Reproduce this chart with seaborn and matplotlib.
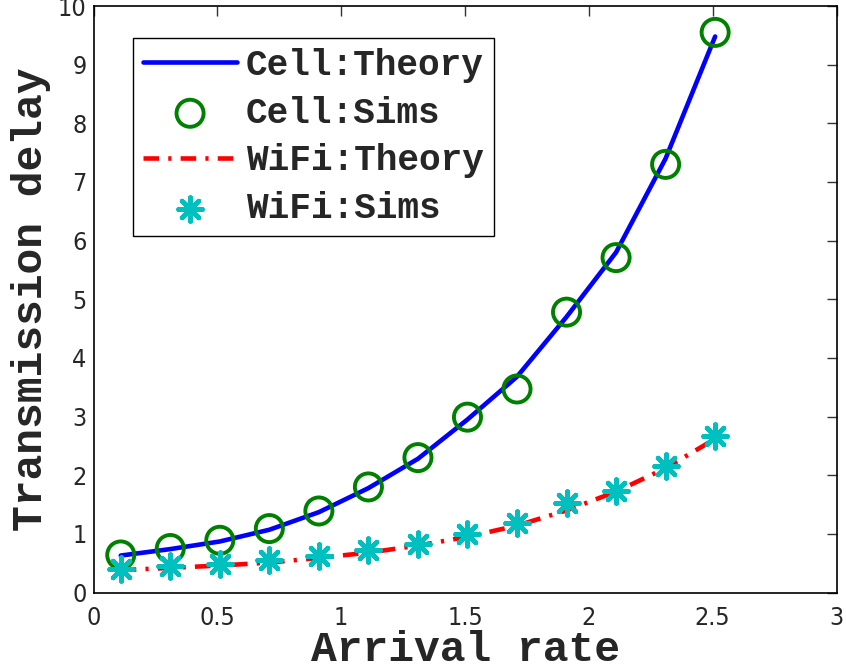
import matplotlib
matplotlib.use("Agg")
import matplotlib.pyplot as plt
import seaborn as sns
import pandas as pd
from matplotlib import font_manager

# ---- data ----
arrival_rate = [0.11, 0.31, 0.51, 0.71, 0.91, 1.11, 1.31, 1.51, 1.71, 1.91, 2.11, 2.31, 2.51]
cell_theory = [0.63, 0.74, 0.87, 1.07, 1.37, 1.78, 2.28, 2.95, 3.68, 4.70, 5.80, 7.40, 9.48]
cell_sims = [0.64, 0.75, 0.89, 1.09, 1.39, 1.80, 2.30, 2.99, 3.47, 4.78, 5.71, 7.30, 9.55]
wifi_theory = [0.38, 0.42, 0.46, 0.51, 0.59, 0.68, 0.80, 0.95, 1.14, 1.40, 1.72, 2.12, 2.62]
wifi_sims = [0.40, 0.45, 0.49, 0.55, 0.63, 0.72, 0.83, 0.99, 1.19, 1.53, 1.73, 2.15, 2.66]
series_labels = ["Cell:Theory", "Cell:Sims", "WiFi:Theory", "WiFi:Sims"]
x_ticks = [0, 0.5, 1, 1.5, 2, 2.5, 3]
y_ticks = list(range(0, 11))

df = pd.DataFrame({
    "x": arrival_rate,
    "cell_theory": cell_theory,
    "cell_sims": cell_sims,
    "wifi_theory": wifi_theory,
    "wifi_sims": wifi_sims,
})

sns.set_style("white")

# pick a narrow sans font for tick labels if one exists
tick_prop = font_manager.FontProperties(family="Liberation Sans", size=18)
for f in font_manager.fontManager.ttflist:
    n = (f.fname or "").lower()
    if ("narrow" in n or "condensed" in n) and "bold" not in n and "oblique" not in n and "italic" not in n \
            and ("liberation" in n or "dejavusans" in n):
        tick_prop = font_manager.FontProperties(fname=f.fname, size=18)
        break
mono = "Liberation Mono"

fig = plt.figure(figsize=(8.46, 6.72), dpi=100)
ax = fig.add_axes([93.5 / 846, (672 - 592.5) / 672, (836.5 - 93.5) / 846, (592.5 - 6) / 672])

blue = (0, 0, 1)
green = (0, 0.5, 0)
red = (1, 0, 0)
cyan = (0, 0.75, 0.75)

sns.lineplot(data=df, x="x", y="cell_theory", ax=ax, color=blue, lw=3.3,
             label=series_labels[0], zorder=2)
sns.scatterplot(data=df, x="x", y="cell_sims", ax=ax, marker="o", s=380,
                facecolors="none", edgecolors=green, color=green, linewidths=2.8,
                label=series_labels[1], zorder=3)
sns.lineplot(data=df, x="x", y="wifi_theory", ax=ax, color=red, lw=3.3,
             label=series_labels[2], zorder=2)
ax.lines[-1].set_dashes([3.4, 2.0, 0.7, 2.0])
sns.scatterplot(data=df, x="x", y="wifi_sims", ax=ax, marker=(8, 2, 0), s=290,
                color=cyan, edgecolor=cyan, linewidths=3.4,
                label=series_labels[3], zorder=4)

ax.set_xlim(0, 3)
ax.set_ylim(0, 10)
ax.set_xticks(x_ticks)
ax.set_xticklabels([f"{t:g}" for t in x_ticks])
ax.set_yticks(y_ticks)
ax.set_yticklabels([str(t) for t in y_ticks])
ax.tick_params(direction="in", length=7, width=1, color="#333333",
               top=True, right=True)
ax.tick_params(axis="x", pad=10)
ax.tick_params(axis="y", pad=5)
for lab in ax.get_xticklabels() + ax.get_yticklabels():
    lab.set_fontproperties(tick_prop)
for sp in ax.spines.values():
    sp.set_visible(True)
    sp.set_color("black")
    sp.set_linewidth(1.2)

ax.set_xlabel("Arrival rate", fontsize=31, fontweight="bold", family=mono, labelpad=0)
ax.set_ylabel("Transmission delay", fontsize=31, fontweight="bold", family=mono, labelpad=5)

leg = ax.legend(loc="upper left", bbox_to_anchor=(39.5 / 743, 1 - 32 / 586.5),
                prop={"family": mono, "weight": "bold", "size": 26},
                frameon=True, fancybox=False, edgecolor="black", framealpha=1,
                handlelength=2.6, handletextpad=0.25, borderpad=0.28,
                labelspacing=0.35, borderaxespad=0)
leg.get_frame().set_linewidth(1.0)

fig.savefig("out.png", dpi=100)
